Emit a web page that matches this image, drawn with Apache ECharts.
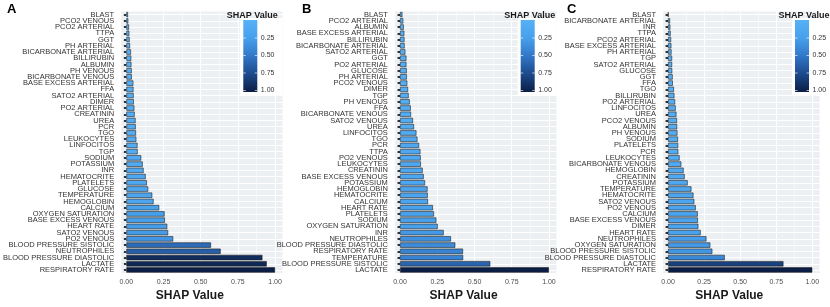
<!DOCTYPE html>
<html><head><meta charset="utf-8">
<script src="https://cdn.jsdelivr.net/npm/echarts@6/dist/echarts.min.js"></script>
<style>html,body{margin:0;padding:0;background:#fff}#c{width:830px;height:307px}</style>
</head><body><div id="c"></div>
<script>
const catsA = ['BLAST','PCO2 VENOUS','PCO2 ARTERIAL','TTPA','GGT','PH ARTERIAL','BICARBONATE ARTERIAL','BILLIRUBIN','ALBUMIN','PH VENOUS','BICARBONATE VENOUS','BASE EXCESS ARTERIAL','FFA','SATO2 ARTERIAL','DIMER','PO2 ARTERIAL','CREATININ','UREA','PCR','TGO','LEUKOCYTES','LINFOCITOS','TGP','SODIUM','POTASSIUM','INR','HEMATOCRITE','PLATELETS','GLUCOSE','TEMPERATURE','HEMOGLOBIN','CALCIUM','OXYGEN SATURATION','BASE EXCESS VENOUS','HEART RATE','SATO2 VENOUS','PO2 VENOUS','BLOOD PRESSURE SISTOLIC','NEUTROPHILES','BLOOD PRESSURE DIASTOLIC','LACTATE','RESPIRATORY RATE'];
const valsA = [0.011,0.013,0.018,0.020,0.022,0.025,0.031,0.033,0.034,0.036,0.037,0.047,0.048,0.049,0.050,0.054,0.056,0.062,0.063,0.065,0.067,0.075,0.076,0.100,0.110,0.116,0.130,0.138,0.147,0.174,0.183,0.221,0.257,0.259,0.275,0.281,0.315,0.569,0.634,0.915,0.944,1.0];

const catsB = ['BLAST','PCO2 ARTERIAL','ALBUMIN','BASE EXCESS ARTERIAL','BILLIRUBIN','BICARBONATE ARTERIAL','SATO2 ARTERIAL','GGT','PO2 ARTERIAL','GLUCOSE','PH ARTERIAL','PCO2 VENOUS','DIMER','TGP','PH VENOUS','FFA','BICARBONATE VENOUS','SATO2 VENOUS','UREA','LINFOCITOS','TGO','PCR','TTPA','PO2 VENOUS','LEUKOCYTES','CREATININ','BASE EXCESS VENOUS','POTASSIUM','HEMOGLOBIN','HEMATOCRITE','CALCIUM','HEART RATE','PLATELETS','SODIUM','OXYGEN SATURATION','INR','NEUTROPHILES','BLOOD PRESSURE DIASTOLIC','RESPIRATORY RATE','TEMPERATURE','BLOOD PRESSURE SISTOLIC','LACTATE'];
const valsB = [0.016,0.022,0.025,0.029,0.030,0.031,0.036,0.043,0.043,0.045,0.046,0.049,0.054,0.058,0.065,0.072,0.074,0.087,0.094,0.110,0.117,0.128,0.137,0.139,0.140,0.152,0.159,0.168,0.185,0.186,0.188,0.221,0.228,0.244,0.253,0.293,0.342,0.371,0.423,0.424,0.606,1.0];

const catsC = ['BLAST','BICARBONATE ARTERIAL','INR','TTPA','PCO2 ARTERIAL','BASE EXCESS ARTERIAL','PH ARTERIAL','TGP','SATO2 ARTERIAL','GLUCOSE','GGT','FFA','TGO','BILLIRUBIN','PO2 ARTERIAL','LINFOCITOS','UREA','PCO2 VENOUS','ALBUMIN','PH VENOUS','SODIUM','PLATELETS','PCR','LEUKOCYTES','BICARBONATE VENOUS','HEMOGLOBIN','CREATININ','POTASSIUM','TEMPERATURE','HEMATOCRITE','SATO2 VENOUS','PO2 VENOUS','CALCIUM','BASE EXCESS VENOUS','DIMER','HEART RATE','NEUTROPHILES','OXYGEN SATURATION','BLOOD PRESSURE SISTOLIC','BLOOD PRESSURE DIASTOLIC','LACTATE','RESPIRATORY RATE'];
const valsC = [0.003,0.014,0.016,0.018,0.021,0.023,0.024,0.028,0.028,0.029,0.032,0.033,0.041,0.044,0.049,0.053,0.058,0.062,0.063,0.065,0.069,0.070,0.071,0.080,0.092,0.108,0.115,0.136,0.162,0.176,0.182,0.192,0.206,0.207,0.210,0.226,0.266,0.293,0.307,0.393,0.800,1.0];

const xTicks = [0, 0.25, 0.5, 0.75, 1];
const xMinorTicks = [0.125, 0.375, 0.625, 0.875];
const legendTicks = [0.25, 0.5, 0.75, 1.0];
const panelLetters = ['A', 'B', 'C'];
const axisTitle = 'SHAP Value';
const legendTitle = 'SHAP Value';

// color scale (low -> high), evenly spaced stops
const scaleColors = ['#56B1F7', '#47A0EC', '#3277C8', '#1C4A8C', '#0B1E45'];

const panels = [
  {cats: catsA, vals: valsA, left: 120.5, right: 830 - 282.5, legendX: 243.3},
  {cats: catsB, vals: valsB, left: 394.8, right: 830 - 556.4, legendX: 520.7},
  {cats: catsC, vals: valsC, left: 663.0, right: 830 - 819.5, legendX: 795.0}
];
const gridTop = 11.5, gridHeight = 265;
const FONT = '"Liberation Sans", Arial, Helvetica, sans-serif';
const panelBg = '#ECF0F3';

const chart = echarts.init(document.getElementById('c'), null, {renderer: 'canvas'});

const grid = [], xAxis = [], yAxis = [], series = [], graphic = [];
panels.forEach((p, i) => {
  grid.push({left: p.left, right: p.right, top: gridTop, height: gridHeight,
    show: true, backgroundColor: panelBg, borderWidth: 0, containLabel: false});
  xAxis.push({type: 'value', gridIndex: i, min: -0.035, max: 1.05,
    axisLine: {show: false},
    axisTick: {show: false, customValues: xTicks},
    axisLabel: {show: true, customValues: xTicks, formatter: v => v.toFixed(2),
      fontSize: 7, color: '#4d4d4d', margin: 5, fontFamily: FONT},
    splitLine: {show: true, lineStyle: {color: '#ffffff', width: 1}},
    name: axisTitle, nameLocation: 'middle', nameGap: 11,
    nameTextStyle: {fontSize: 12, fontWeight: 'bold', color: '#1a1a1a', fontFamily: FONT,
      padding: [0, 24, 0, 0], verticalAlign: 'top'}
  });
  xAxis.push({type: 'value', gridIndex: i, min: -0.035, max: 1.05,
    axisLine: {show: false},
    axisTick: {show: false, customValues: xMinorTicks},
    axisLabel: {show: false, customValues: xMinorTicks},
    splitLine: {show: true, lineStyle: {color: '#ffffff', width: 0.5}}
  });
  yAxis.push({type: 'category', gridIndex: i, data: p.cats, inverse: true, offset: 2,
    axisLine: {show: false},
    axisTick: {show: true, alignWithLabel: true, length: 2.5, lineStyle: {color: '#333333', width: 2}},
    axisLabel: {fontSize: 7.5, color: '#333333', margin: 5, fontFamily: FONT, interval: 0},
    splitLine: {show: true, alignWithLabel: true, lineStyle: {color: '#ffffff', width: 1}}
  });
  series.push({type: 'bar', xAxisIndex: i * 2, yAxisIndex: i,
    data: p.vals.map((v, k) => [v, p.cats[k]]),
    encode: {x: 0, y: 1},
    barWidth: '86%',
    itemStyle: {borderColor: '#222222', borderWidth: 0.6},
    emphasis: {disabled: true},
    animation: false
  });

  const letterX = [7, 302, 567][i];
  graphic.push({type: 'text', left: letterX, top: 3,
    style: {text: panelLetters[i], font: 'bold 13px ' + FONT, fill: '#000'}});

  const bx = p.legendX, by = 20, bw = 14, bh = 72;
  const boxRight = i === 2 ? 830 : 830 - p.right;
  graphic.push({type: 'rect', shape: {x: bx - 3, y: 18, width: boxRight - (bx - 3), height: 78},
    style: {fill: '#ffffff'}, z: 5});
  graphic.push({type: 'text', x: bx + 34.5, y: 15.5,
    style: {text: legendTitle, font: 'bold 9px ' + FONT, fill: '#1a1a1a', textAlign: 'right', textVerticalAlign: 'middle'}, z: 6});
  graphic.push({type: 'rect', shape: {x: bx, y: by, width: bw, height: bh},
    style: {fill: new echarts.graphic.LinearGradient(0, 0, 0, 1,
      scaleColors.map((c, k) => ({offset: k / (scaleColors.length - 1), color: c})))}, z: 6});
  legendTicks.forEach(t => {
    const ty = 20.5 + t * 70;
    graphic.push({type: 'line', shape: {x1: bx, y1: ty, x2: bx + 2.5, y2: ty},
      style: {stroke: 'rgba(255,255,255,0.8)', lineWidth: 0.8}, z: 7});
    graphic.push({type: 'line', shape: {x1: bx + bw - 2.5, y1: ty, x2: bx + bw, y2: ty},
      style: {stroke: 'rgba(255,255,255,0.8)', lineWidth: 0.8}, z: 7});
    graphic.push({type: 'text', x: bx + 17.5, y: ty,
      style: {text: t.toFixed(2), font: '7px ' + FONT, fill: '#333333', textVerticalAlign: 'middle'}, z: 7});
  });
});

chart.setOption({
  animation: false,
  grid, xAxis, yAxis, series, graphic,
  visualMap: {type: 'continuous', show: false, min: 0, max: 1, dimension: 0,
    seriesIndex: [0, 1, 2], inRange: {color: scaleColors}}
});
</script>
</body></html>
